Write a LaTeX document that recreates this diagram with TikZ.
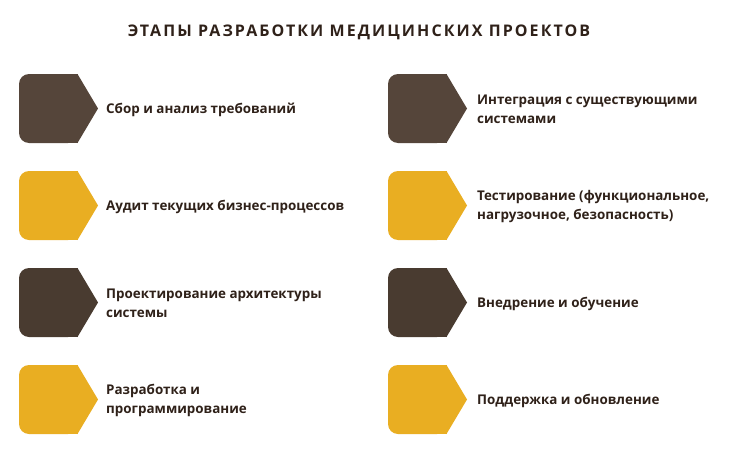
\documentclass[tikz,border=0pt]{standalone}
\usepackage{fontspec}
\setmainfont{Open Sans}
\newfontfamily\titlefont{Open Sans}[LetterSpace=13]

\definecolor{marron}{HTML}{55453A}
\definecolor{marronosc}{HTML}{493B30}
\definecolor{mostaza}{HTML}{E9AE22}
\definecolor{tinta}{HTML}{2F2119}

\tikzset{
  etapa/.style={anchor=west, align=left, inner sep=0pt, text=tinta, font=\bfseries\fontsize{13.4}{19.5}\selectfont},
  pics/flecha/.style={code={
    \fill[#1, rounded corners=10pt] (0,0) rectangle (59,69);
    \fill[#1] (20,0) rectangle (59,69);
    \fill[#1] (58.5,0) -- (79,34.5) -- (58.5,69) -- cycle;
  }}
}

\begin{document}
\begin{tikzpicture}[x=1pt, y=-1pt]

    % Fondo
    \fill[white] (0,0) rectangle (756,450);
    \useasboundingbox (0,0) rectangle (756,450);

    % Titulo
    \node[text=tinta, font=\titlefont\bfseries\fontsize{16}{18}\selectfont] (titulo) at (359,32) {ЭТАПЫ РАЗРАБОТКИ МЕДИЦИНСКИХ ПРОЕКТОВ};

    % Columna izquierda
    \pic at (19,74) {flecha=marron};
    \pic at (19,171) {flecha=mostaza};
    \pic at (19,268) {flecha=marronosc};
    \pic at (19,365) {flecha=mostaza};

    \node[etapa] (e1) at (106,109.5) {Сбор и анализ требований};
    \node[etapa] (e2) at (106,206.5) {Аудит текущих бизнес-процессов};
    \node[etapa] (e3) at (106,303.5) {Проектирование архитектуры\\системы};
    \node[etapa] (e4) at (106,400.5) {Разработка и\\программирование};

    % Columna derecha
    \pic at (388,74) {flecha=marron};
    \pic at (388,171) {flecha=mostaza};
    \pic at (388,268) {flecha=marronosc};
    \pic at (388,365) {flecha=mostaza};

    \node[etapa] (e5) at (477,109.5) {Интеграция с существующими\\системами};
    \node[etapa] (e6) at (477,206.5) {Тестирование (функциональное,\\нагрузочное, безопасность)};
    \node[etapa] (e7) at (477,303.5) {Внедрение и обучение};
    \node[etapa] (e8) at (477,400.5) {Поддержка и обновление};

  \end{tikzpicture}
\end{document}
